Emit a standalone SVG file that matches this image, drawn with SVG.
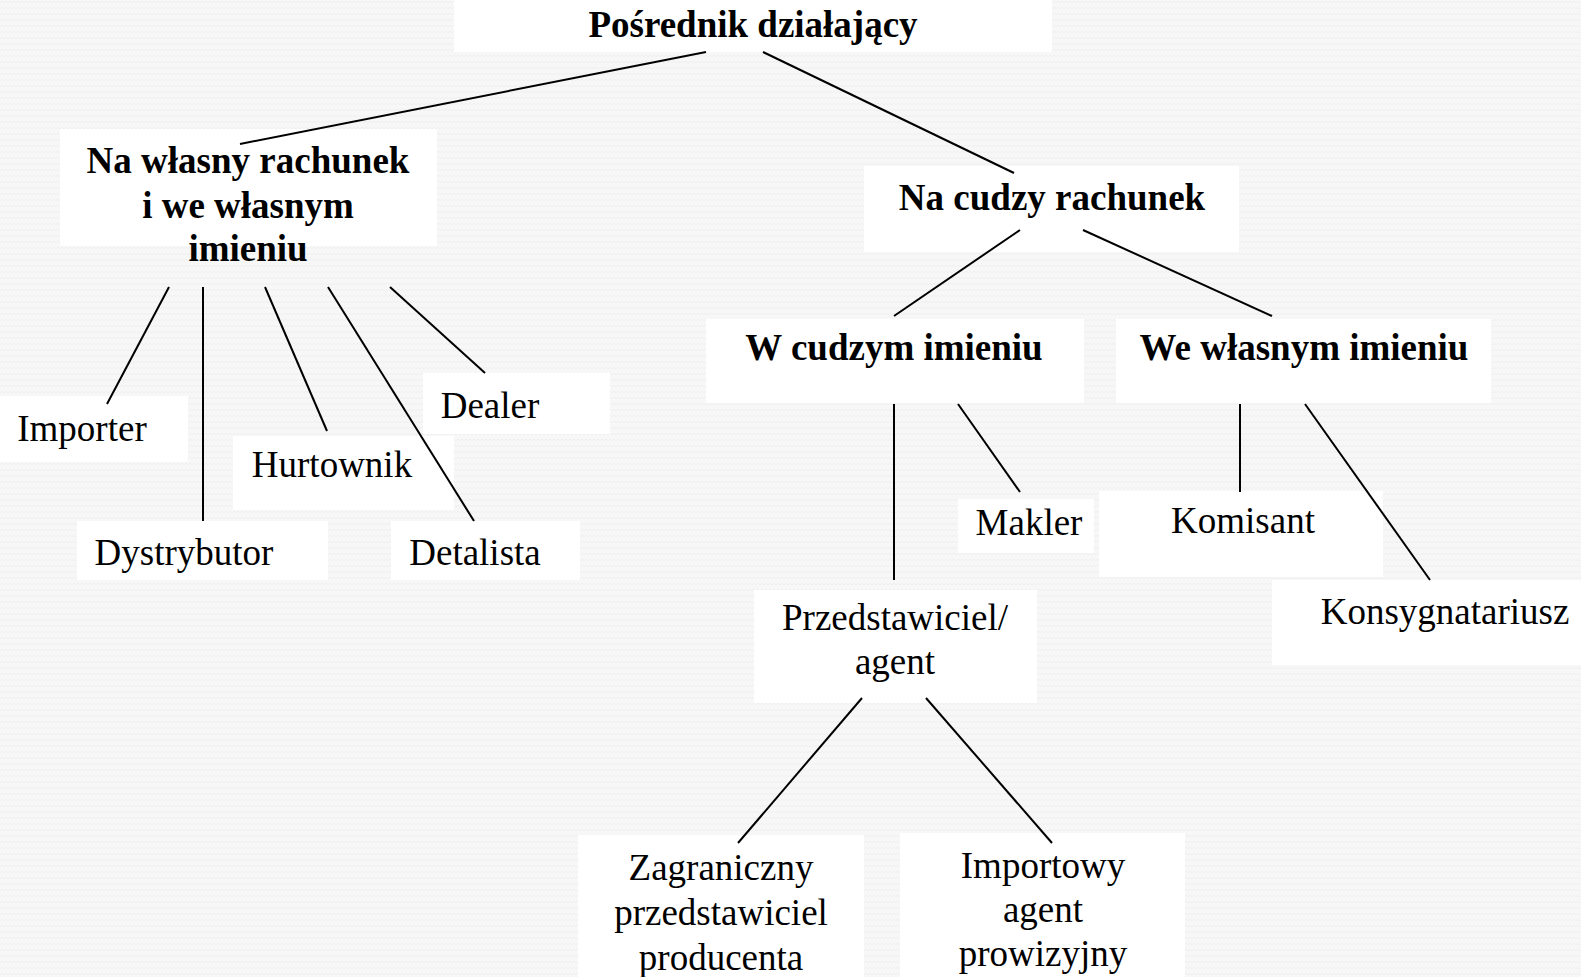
<svg xmlns="http://www.w3.org/2000/svg" width="1581" height="977" viewBox="0 0 1581 977">
  <defs>
    <pattern id="tex" width="8" height="6" patternUnits="userSpaceOnUse">
      <rect width="8" height="6" fill="#f7f7f7"/>
      <path d="M0 3 L2 1 L4 3 L6 1 L8 3" fill="none" stroke="#efefef" stroke-width="1"/>
    </pattern>
    <style>
      .box { fill: #ffffff; stroke: none; }
      .b { font-family: "Liberation Serif", "Times New Roman", serif; font-weight: bold; font-size: 37px; fill: #000; text-anchor: middle; }
      .r { font-family: "Liberation Serif", "Times New Roman", serif; font-size: 37px; fill: #000; text-anchor: middle; }
      .ln { stroke: #000; stroke-width: 2; fill: none; }
    </style>
  </defs>
  <rect width="1581" height="977" fill="url(#tex)"/>

  <g id="posrednik">
    <rect class="box" x="454" y="0" width="598" height="52"/>
    <text class="b" x="753" y="37">Pośrednik działający</text>
  </g>
  <g id="na-wlasny">
    <rect class="box" x="60" y="129" width="377" height="117"/>
    <text class="b" x="248" y="173">Na własny rachunek</text>
    <text class="b" x="248" y="218">i we własnym</text>
    <text class="b" x="248" y="261">imieniu</text>
  </g>
  <g id="na-cudzy">
    <rect class="box" x="864" y="166" width="375" height="86"/>
    <text class="b" x="1052" y="210">Na cudzy rachunek</text>
  </g>
  <g id="w-cudzym">
    <rect class="box" x="706" y="319" width="378" height="84"/>
    <text class="b" x="894" y="360">W cudzym imieniu</text>
  </g>
  <g id="we-wlasnym">
    <rect class="box" x="1116" y="319" width="375" height="84"/>
    <text class="b" x="1304" y="360">We własnym imieniu</text>
  </g>
  <g id="importer">
    <rect class="box" x="0" y="396" width="188" height="66"/>
    <text class="r" x="82" y="441">Importer</text>
  </g>
  <g id="dealer">
    <rect class="box" x="423" y="373" width="187" height="61"/>
    <text class="r" x="490" y="418">Dealer</text>
  </g>
  <g id="hurtownik">
    <rect class="box" x="233" y="436" width="221" height="74"/>
    <text class="r" x="332" y="477">Hurtownik</text>
  </g>
  <g id="dystrybutor">
    <rect class="box" x="77" y="521" width="251" height="59"/>
    <text class="r" x="184" y="565">Dystrybutor</text>
  </g>
  <g id="detalista">
    <rect class="box" x="391" y="521" width="189" height="59"/>
    <text class="r" x="475" y="565">Detalista</text>
  </g>
  <g id="makler">
    <rect class="box" x="958" y="499" width="136" height="54"/>
    <text class="r" x="1029" y="535">Makler</text>
  </g>
  <g id="komisant">
    <rect class="box" x="1099" y="491" width="284" height="86"/>
    <text class="r" x="1243" y="533">Komisant</text>
  </g>
  <g id="konsygnatariusz">
    <rect class="box" x="1272" y="580" width="309" height="85"/>
    <text class="r" x="1445" y="624">Konsygnatariusz</text>
  </g>
  <g id="przedstawiciel">
    <rect class="box" x="754" y="590" width="283" height="113"/>
    <text class="r" x="895" y="630">Przedstawiciel/</text>
    <text class="r" x="895" y="674">agent</text>
  </g>
  <g id="zagraniczny">
    <rect class="box" x="578" y="835" width="286" height="142"/>
    <text class="r" x="721" y="880">Zagraniczny</text>
    <text class="r" x="721" y="925">przedstawiciel</text>
    <text class="r" x="721" y="970">producenta</text>
  </g>
  <g id="importowy">
    <rect class="box" x="900" y="833" width="285" height="144"/>
    <text class="r" x="1043" y="878">Importowy</text>
    <text class="r" x="1043" y="922">agent</text>
    <text class="r" x="1043" y="966">prowizyjny</text>
  </g>

  <g id="connectors">
    <line class="ln" x1="706" y1="52" x2="240" y2="144"/>
    <line class="ln" x1="763" y1="52" x2="1014" y2="173"/>
    <line class="ln" x1="169" y1="287" x2="107" y2="404"/>
    <line class="ln" x1="203" y1="287" x2="203" y2="521"/>
    <line class="ln" x1="265" y1="287" x2="327" y2="431"/>
    <line class="ln" x1="328" y1="287" x2="474" y2="521"/>
    <line class="ln" x1="390" y1="287" x2="485" y2="373"/>
    <line class="ln" x1="1020" y1="230" x2="894" y2="316"/>
    <line class="ln" x1="1083" y1="230" x2="1272" y2="316"/>
    <line class="ln" x1="894" y1="404" x2="894" y2="580"/>
    <line class="ln" x1="958" y1="404" x2="1020" y2="492"/>
    <line class="ln" x1="1240" y1="404" x2="1240" y2="492"/>
    <line class="ln" x1="1305" y1="404" x2="1430" y2="580"/>
    <line class="ln" x1="862" y1="698" x2="738" y2="843"/>
    <line class="ln" x1="926" y1="698" x2="1052" y2="843"/>
  </g>
</svg>
